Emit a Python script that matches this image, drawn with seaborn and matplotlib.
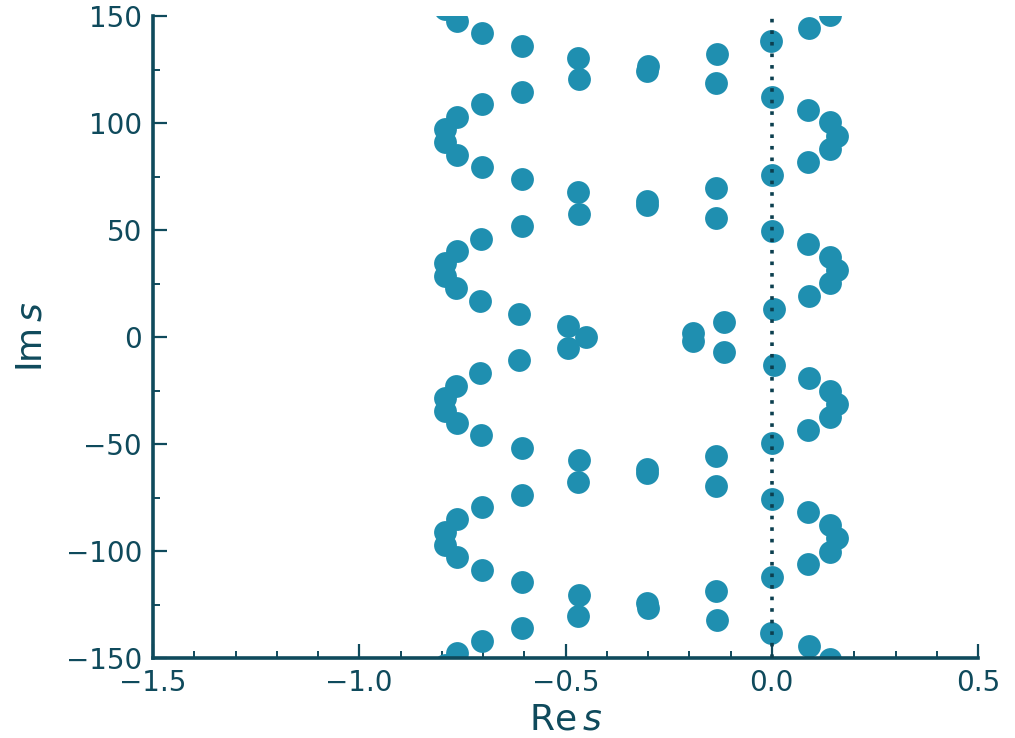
import matplotlib
matplotlib.use("Agg")
import matplotlib.pyplot as plt
import seaborn as sns
import pandas as pd
from matplotlib.ticker import MultipleLocator

# Left branch of roots (Re s, Im s)
left_re = [-0.450, -0.494, -0.613, -0.707, -0.765, -0.792, -0.792, -0.764, -0.704, -0.605,
           -0.467, -0.302, -0.302, -0.469, -0.606, -0.703, -0.764, -0.793, -0.792, -0.764,
           -0.703, -0.605, -0.468, -0.302, -0.301, -0.470, -0.606, -0.703, -0.764, -0.792,
           -0.494, -0.613, -0.707, -0.765, -0.792, -0.792, -0.764, -0.704, -0.605,
           -0.467, -0.302, -0.302, -0.469, -0.606, -0.703, -0.764, -0.793, -0.792, -0.764,
           -0.703, -0.605, -0.468, -0.302, -0.301, -0.470, -0.606, -0.703, -0.764, -0.792]
left_im = [0.0, 5.1, 10.9, 16.8, 22.7, 28.5, 34.4, 40.2, 46.0, 51.8,
           57.7, 61.7, 63.7, 67.6, 73.7, 79.4, 85.2, 91.3, 97.0, 102.9,
           108.7, 114.5, 120.4, 124.3, 126.6, 130.5, 136.1, 142.1, 147.8, 153.5,
           -5.1, -10.9, -16.8, -22.7, -28.5, -34.4, -40.2, -46.0, -51.8,
           -57.7, -61.7, -63.7, -67.6, -73.7, -79.4, -85.2, -91.3, -97.0, -102.9,
           -108.7, -114.5, -120.4, -124.3, -126.6, -130.5, -136.1, -142.1, -147.8, -153.5]

# Right branch of roots (Re s, Im s)
right_re = [-0.190, -0.116, 0.005, 0.091, 0.141, 0.157, 0.141, 0.089, 0.000, -0.135,
            -0.134, 0.000, 0.089, 0.141, 0.157, 0.141, 0.089, 0.000, -0.135, -0.133,
            -0.001, 0.090, 0.141,
            -0.190, -0.116, 0.005, 0.091, 0.141, 0.157, 0.141, 0.089, 0.000, -0.135,
            -0.134, 0.000, 0.089, 0.141, 0.157, 0.141, 0.089, 0.000, -0.135, -0.133,
            -0.001, 0.090, 0.141]
right_im = [1.8, 7.1, 13.1, 19.2, 25.4, 31.3, 37.2, 43.6, 49.7, 55.6,
            69.6, 75.7, 81.8, 87.9, 94.1, 100.3, 106.2, 112.3, 118.6, 132.4,
            138.5, 144.5, 150.5,
            -1.8, -7.1, -13.1, -19.2, -25.4, -31.3, -37.2, -43.6, -49.7, -55.6,
            -69.6, -75.7, -81.8, -87.9, -94.1, -100.3, -106.2, -112.3, -118.6, -132.4,
            -138.5, -144.5, -150.5]

x_ticks = [-1.5, -1.0, -0.5, 0.0, 0.5]
y_ticks = [-150, -100, -50, 0, 50, 100, 150]
imag_axis_x = [0.0, 0.0]
imag_axis_y = [-150, 150]

TEXT = "#0f4a5c"
POINT = "#1f8fb0"
DOT = "#0c3f4f"

sns.set_theme(style="ticks")
plt.rcParams["font.family"] = ["DejaVu Sans"]
plt.rcParams["mathtext.fontset"] = "dejavusans"

df = pd.DataFrame({"re": left_re + right_re, "im": left_im + right_im})

fig = plt.figure(figsize=(10.15, 7.38), dpi=100)
ax = fig.add_axes([153 / 1015, 1 - 658 / 738, (978 - 153) / 1015, (658 - 16) / 738])

sns.scatterplot(data=df, x="re", y="im", ax=ax, color=POINT, s=270,
                linewidth=0, zorder=2, clip_on=True)
ax.plot(imag_axis_x, imag_axis_y, linestyle=(0, (1, 2.2)), color=DOT,
        linewidth=2.6, zorder=3)

ax.set_xlim(-1.5, 0.5)
ax.set_ylim(-150, 150)
ax.set_xticks(x_ticks)
ax.set_yticks(y_ticks)
ax.xaxis.set_minor_locator(MultipleLocator(0.1))
ax.yaxis.set_minor_locator(MultipleLocator(25))

for side in ["top", "right"]:
    ax.spines[side].set_visible(False)
for side in ["left", "bottom"]:
    ax.spines[side].set_linewidth(2.6)
    ax.spines[side].set_color(TEXT)

ax.tick_params(axis="both", which="major", direction="in", length=10, width=1.6,
               colors=TEXT, labelsize=20, pad=8)
ax.tick_params(axis="both", which="minor", direction="in", length=5, width=1.4,
               colors=TEXT)

ax.set_xlabel(r"$\mathrm{Re}\,s$", fontsize=26, color=TEXT, labelpad=4)
ax.set_ylabel(r"$\mathrm{Im}\,s$", fontsize=26, color=TEXT, labelpad=12)

fig.savefig("out.png", dpi=100)
